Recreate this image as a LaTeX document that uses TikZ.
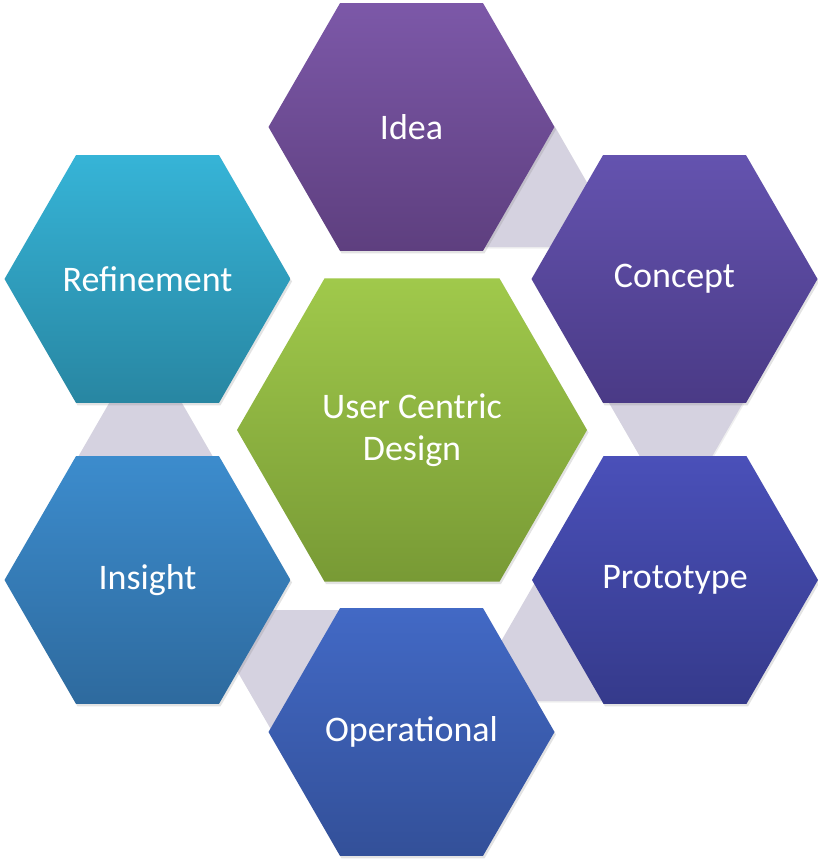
\documentclass[tikz,border=0pt]{standalone}
\usepackage{fontspec}
\setmainfont{Carlito}
\usetikzlibrary{shapes.geometric,shadows}
\definecolor{ideaT}{HTML}{7C58A8}\definecolor{ideaB}{HTML}{5E3F7F}
\definecolor{concT}{HTML}{6453AF}\definecolor{concB}{HTML}{4A3A86}
\definecolor{protT}{HTML}{4A50B9}\definecolor{protB}{HTML}{353A8B}
\definecolor{operT}{HTML}{4269C5}\definecolor{operB}{HTML}{335099}
\definecolor{insT}{HTML}{3C8CCD}\definecolor{insB}{HTML}{2E6A9E}
\definecolor{refT}{HTML}{36B4D7}\definecolor{refB}{HTML}{2886A2}
\definecolor{ucdT}{HTML}{A0C94B}\definecolor{ucdB}{HTML}{789A35}
\definecolor{linkgray}{HTML}{D5D2E0}
\begin{document}
\begin{tikzpicture}[x=1pt,y=-1pt,
  hexa/.style={regular polygon, regular polygon sides=6, inner sep=0pt, outer sep=0pt,
    minimum size=286pt, draw=none, text=white, align=center,
    font=\fontsize{36}{42}\selectfont,
    drop shadow={shadow xshift=1.5pt, shadow yshift=-2.5pt, opacity=0.22}},
  bighexa/.style={hexa, minimum size=350pt},
  shade2/.style 2 args={top color=#1, bottom color=#2},
  link/.style={fill=linkgray, draw=none, drop shadow={shadow xshift=1pt, shadow yshift=-1.5pt, opacity=0.12}}]
\useasboundingbox (0,0) rectangle (817,861);
\fill[white] (0,0) rectangle (817,861);
% gray links
\path[link] (555,127) -- (624,247) -- (480,247) -- cycle;
\path[link] (676,519) -- (601.6,390) -- (750.4,390) -- cycle;
\path[link] (537.6,578) -- (605,701) -- (466.6,701) -- cycle;
\path[link] (202,610) -- (345,610) -- (273.5,733.8) -- cycle;
\path[link] (145.5,340) -- (220.5,470) -- (70.5,470) -- cycle;
% hexagons
\node[hexa, shade2={ideaT}{ideaB}] (idea) at (411.5,127) {Idea};
\node[hexa, shade2={concT}{concB}] (concept) at (674.5,279) {Concept};
\node[hexa, shade2={protT}{protB}] (prototype) at (675,580) {Prototype};
\node[hexa, shade2={operT}{operB}] (operational) at (411.5,732) {Operational};
\node[hexa, shade2={insT}{insB}] (insight) at (147.5,580) {Insight};
\node[hexa, shade2={refT}{refB}] (refinement) at (147.5,279) {Refinement};
\node[bighexa, shade2={ucdT}{ucdB}] (ucd) at (412,430) {User Centric\\Design};
\end{tikzpicture}
\end{document}
